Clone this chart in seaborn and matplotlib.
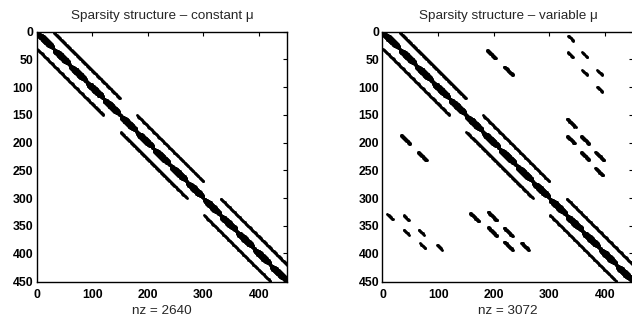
import numpy as np
import pandas as pd
import matplotlib
matplotlib.use("Agg")
import matplotlib.pyplot as plt
import seaborn as sns

N = 450

# main diagonal: 30x30 blocks, half band width per row inside each block
diag_block_starts = [0, 30, 60, 90, 120, 150, 180, 210, 240, 270, 300, 330, 360, 390, 420]
blob_profile = [1, 1, 2, 3, 4, 4, 5, 5, 5, 5, 5, 5, 5, 5, 5,
                5, 5, 5, 5, 5, 5, 5, 5, 4, 4, 3, 2, 1, 1, 1]

# long off-diagonals: (offset, first row, last row)
band_offsets = [30, -30, 30, -30, 30, -30]
band_first = [0, 30, 150, 180, 300, 330]
band_last = [120, 150, 270, 300, 420, 450]

# extra coupling dashes of the variable-mu matrix: start row, start col, length, width
dash_rows = [32, 62, 6, 36, 36, 68, 68, 98,
             186, 216, 156, 187, 187, 216, 216, 245,
             328, 330, 356, 356, 381, 383,
             326, 324, 352, 353, 378, 380]
dash_cols = [186, 217, 333, 332, 358, 358, 385, 385,
             32, 62, 330, 330, 355, 355, 381, 381,
             8, 37, 37, 64, 67, 97,
             156, 188, 188, 217, 217, 248]
dash_lens = [16, 16, 10, 10, 10, 10, 10, 10,
             16, 16, 15, 14, 15, 15, 16, 14,
             10, 10, 10, 10, 10, 10,
             16, 16, 16, 15, 15, 13]
dash_widths = [2, 2, 1, 1, 1, 1, 1, 1,
               2, 2, 2, 2, 2, 2, 2, 2,
               1, 1, 1, 1, 1, 1,
               2, 2, 2, 2, 2, 2]

titles = ["Sparsity structure \u2013 constant \u03bc",
          "Sparsity structure \u2013 variable \u03bc"]
nz_labels = [2640, 3072]


def base_pattern():
    pts = set()
    for b in diag_block_starts:
        for k, h in enumerate(blob_profile):
            r = b + k
            for c in range(r - h, r + h + 1):
                if b <= c < b + 30:
                    pts.add((r, c))
    for off, r0, r1 in zip(band_offsets, band_first, band_last):
        for r in range(r0, r1):
            c = r + off
            if 0 <= c < N:
                pts.add((r, c))
    return pts


def coupling_pattern():
    pts = set()
    for r0, c0, ln, w in zip(dash_rows, dash_cols, dash_lens, dash_widths):
        for k in range(ln):
            for j in range(w):
                pts.add((r0 + k, c0 + k + 2 * j))
    return pts


patterns = [base_pattern(), base_pattern() | coupling_pattern()]

sns.set_style("white")
plt.rcParams["font.family"] = ["Liberation Sans", "DejaVu Sans"]

fig = plt.figure(figsize=(6.32, 3.2), dpi=100)
positions = [[0.0578, 0.1197, 0.397, 0.781], [0.6052, 0.1197, 0.397, 0.781]]

for pos, pts, title, nz in zip(positions, patterns, titles, nz_labels):
    ax = fig.add_axes(pos)
    df = pd.DataFrame(sorted(pts), columns=["row", "col"]) + 1
    sns.scatterplot(data=df, x="col", y="row", ax=ax, s=4.2, color="black",
                    linewidth=0, marker="o", legend=False)
    ax.set_xlim(0, N + 1)
    ax.set_ylim(N + 1, 0)
    ax.set_xticks(np.arange(0, 401, 100))
    ax.set_yticks(np.arange(0, 451, 50))
    ax.tick_params(direction="in", length=3, width=0.8, top=True, right=True,
                   labelsize=8.8, colors="black")
    ax.tick_params(axis="x", pad=5)
    ax.tick_params(axis="y", pad=2.5)
    for lab in ax.get_xticklabels() + ax.get_yticklabels():
        lab.set_fontweight("bold")
    for sp in ax.spines.values():
        sp.set_color("black")
        sp.set_linewidth(1.0)
    ax.set_title(title, fontsize=9.7, pad=9)
    ax.set_xlabel(f"nz = {nz}", fontsize=9.7, labelpad=3)
    ax.set_ylabel("")

fig.savefig("out.png", dpi=100)
